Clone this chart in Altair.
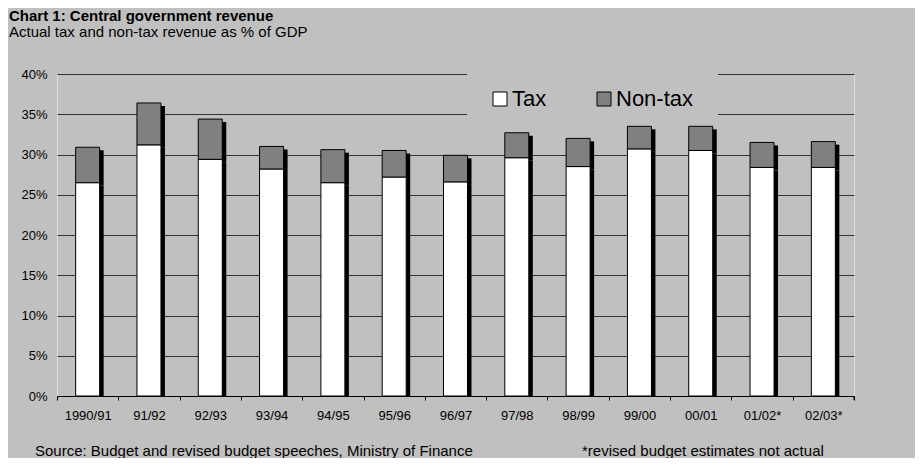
import altair as alt
import pandas as pd

# ---- data ----
years = ["1990/91", "91/92", "92/93", "93/94", "94/95", "95/96", "96/97",
         "97/98", "98/99", "99/00", "00/01", "01/02*", "02/03*"]
tax = [26.5, 31.2, 29.4, 28.2, 26.5, 27.2, 26.6, 29.6, 28.5, 30.7, 30.5, 28.4, 28.4]
non_tax = [4.4, 5.2, 5.0, 2.8, 4.1, 3.3, 3.3, 3.1, 3.5, 2.8, 3.0, 3.1, 3.2]
series = ["Tax", "Non-tax"]
series_colors = ["#ffffff", "#808080"]
y_ticks = [0, 5, 10, 15, 20, 25, 30, 35, 40]

title_text = "Chart 1: Central government revenue"
subtitle_text = "Actual tax and non-tax revenue as % of GDP"
source_text = "Source: Budget and revised budget speeches, Ministry of Finance"
note_text = "*revised budget estimates not actual"

FONT = "Liberation Sans"
BG = "#c0c0c0"
W, H = 797, 322

rows = []
for i, yr in enumerate(years):
    rows.append({"year": yr, "type": "Tax", "value": tax[i], "ord": 0})
    rows.append({"year": yr, "type": "Non-tax", "value": non_tax[i], "ord": 1})
df = pd.DataFrame(rows)

x_enc = alt.X(
    "year:N", sort=years,
    scale=alt.Scale(paddingInner=0, paddingOuter=0),
    axis=alt.Axis(title=None, labelAngle=0, domain=True, domainColor="black",
                  domainWidth=1, ticks=True, tickColor="black", tickSize=4,
                  tickBand="extent", labelPadding=9, labelFontSize=13,
                  labelColor="black", labelFont=FONT, grid=False),
)
y_enc = alt.Y(
    "value:Q", stack="zero",
    scale=alt.Scale(domain=[0, 40], nice=False),
    axis=alt.Axis(title=None, values=y_ticks, labelExpr="datum.value + '%'",
                  grid=True, gridColor="#333333", gridWidth=1, domain=False,
                  ticks=False, labelPadding=10, labelFontSize=13,
                  labelColor="black", labelFont=FONT),
)

base = alt.Chart(df)

shadow = base.mark_bar(size=24, color="black", xOffset=4, yOffset=3, clip=True).encode(
    x=x_enc, y=y_enc, detail="type:N", order=alt.Order("ord:Q")
)

bars = base.mark_bar(size=24, stroke="black", strokeWidth=1, opacity=1).encode(
    x=x_enc,
    y=y_enc,
    color=alt.Color(
        "type:N",
        scale=alt.Scale(domain=series, range=series_colors),
        legend=alt.Legend(
            title=None, orient="none", legendX=432, legendY=14,
            direction="horizontal", symbolType="square", symbolSize=196,
            symbolStrokeColor="black", symbolStrokeWidth=1, symbolOpacity=1,
            labelFontSize=22, labelFont=FONT, labelColor="black",
            labelOffset=1, columnPadding=46, padding=0,
        ),
    ),
    order=alt.Order("ord:Q"),
)

one = pd.DataFrame({"k": [0]})

# background patch behind the legend (hides gridlines there)
legend_bg = alt.Chart(one).mark_rect(color=BG).encode(
    x=alt.value(410), x2=alt.value(661), y=alt.value(-2), y2=alt.value(50)
)

end_tick = alt.Chart(one).mark_rule(color="black", strokeWidth=1).encode(
    x=alt.value(W), y=alt.value(H), y2=alt.value(H + 4)
)

def text_layer(txt, x, y, size, bold=False):
    return alt.Chart(pd.DataFrame({"t": [txt]})).mark_text(
        align="left", baseline="alphabetic", font=FONT, fontSize=size,
        fontWeight="bold" if bold else "normal", color="black",
    ).encode(text="t:N", x=alt.value(x), y=alt.value(y))

title_l = text_layer(title_text, -48, -53, 15, bold=True)
subtitle_l = text_layer(subtitle_text, -48, -37, 15)
source_l = text_layer(source_text, -22, 382, 15)
note_l = text_layer(note_text, 525, 382, 15)

chart = alt.layer(
    shadow, bars, legend_bg, end_tick, title_l, subtitle_l, source_l, note_l
).properties(
    width=W, height=H,
    padding={"left": 49, "top": 66, "right": 61, "bottom": 62},
    autosize=alt.AutoSizeParams(type="none"),
    background=BG,
).configure_view(stroke=None).configure(font=FONT)

chart.save("out.html", embed_options={"renderer": "svg", "actions": False})
